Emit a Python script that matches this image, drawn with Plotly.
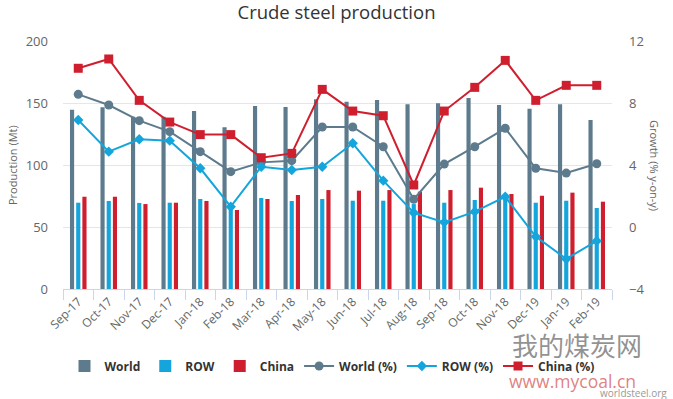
import plotly.graph_objects as go

months = ["Sep-17", "Oct-17", "Nov-17", "Dec-17", "Jan-18", "Feb-18", "Mar-18", "Apr-18", "May-18",
          "Jun-18", "Jul-18", "Aug-18", "Sep-18", "Oct-18", "Nov-18", "Dec-19", "Jan-19", "Feb-19"]

world = [144.5, 146.5, 139.0, 139.0, 143.5, 130.5, 147.6, 146.8, 153.0,
         151.0, 152.4, 149.0, 149.7, 154.0, 148.4, 145.4, 149.0, 136.3]
row = [69.6, 71.0, 69.4, 69.6, 72.6, 66.4, 73.4, 71.0, 72.6,
       71.2, 71.2, 68.5, 69.6, 71.8, 74.0, 69.6, 71.2, 65.3]
china = [74.4, 74.4, 68.5, 69.6, 71.0, 63.7, 72.6, 75.8, 79.8,
         79.3, 79.8, 78.5, 79.8, 81.7, 76.6, 75.2, 77.7, 70.4]

world_pct = [8.56, 7.87, 6.86, 6.15, 4.86, 3.57, 4.17, 4.28, 6.45,
             6.45, 5.18, 1.79, 4.06, 5.18, 6.37, 3.79, 3.48, 4.08]
row_pct = [6.9, 4.86, 5.66, 5.57, 3.79, 1.31, 3.89, 3.68, 3.89,
           5.4, 2.99, 0.92, 0.3, 0.99, 1.95, -0.62, -2.06, -0.9]
china_pct = [10.24, 10.84, 8.17, 6.77, 5.96, 5.96, 4.47, 4.75, 8.88,
             7.48, 7.18, 2.71, 7.48, 9.01, 10.75, 8.17, 9.14, 9.14]

C_WORLD = "#5d7b8d"
C_ROW = "#14a5dc"
C_CHINA = "#cf1f2f"

fig = go.Figure()
fig.add_trace(go.Bar(x=months, y=world, name="World", marker_color=C_WORLD, marker_line_width=0))
fig.add_trace(go.Bar(x=months, y=row, name="ROW", marker_color=C_ROW, marker_line_width=0))
fig.add_trace(go.Bar(x=months, y=china, name="China", marker_color=C_CHINA, marker_line_width=0))
fig.add_trace(go.Scatter(x=months, y=world_pct, name="World (%)", yaxis="y2", mode="lines+markers",
                         line=dict(color=C_WORLD, width=2), marker=dict(symbol="circle", size=9, color=C_WORLD)))
fig.add_trace(go.Scatter(x=months, y=row_pct, name="ROW (%)", yaxis="y2", mode="lines+markers",
                         line=dict(color=C_ROW, width=2), marker=dict(symbol="diamond", size=8, color=C_ROW)))
fig.add_trace(go.Scatter(x=months, y=china_pct, name="China (%)", yaxis="y2", mode="lines+markers",
                         line=dict(color=C_CHINA, width=2), marker=dict(symbol="square", size=9, color=C_CHINA)))

L, R, T, B = 63, 61, 41, 110
PW = 673 - L - R
PH = 399 - T - B


def px(x):
    return (x - L) / PW


def py(y):
    return (399 - B - y) / PH


fig.update_layout(
    width=673, height=399,
    margin=dict(l=L, r=R, t=T, b=B, autoexpand=False),
    paper_bgcolor="white", plot_bgcolor="white",
    font=dict(family="Open Sans, sans-serif", color="#666666", size=12),
    title=dict(text="Crude steel production", x=0.5, xanchor="center", y=1 - 13 / 399, yanchor="middle",
               font=dict(size=18.5, color="#333333")),
    barmode="group", bargap=0.39, bargroupgap=0.33,
    showlegend=True,
    legend=dict(orientation="h", x=0.49, xanchor="center", y=py(366), yanchor="middle",
                font=dict(size=12, color="#333333", family="Open Sans, sans-serif", weight="bold"),
                itemwidth=30, traceorder="normal"),
    xaxis=dict(tickangle=-45, showline=True, linecolor="#ccd6eb", linewidth=1, automargin=False,
               range=[-0.5, len(months) - 0.5],
               ticks="outside", tickson="boundaries", ticklen=10, tickcolor="#ccd6eb",
               tickfont=dict(size=12, color="#666666"), showgrid=False),
    yaxis=dict(range=[0, 200], dtick=50, showgrid=True, gridcolor="#e6e6e6", zeroline=False,
               automargin=False, tickfont=dict(size=13, color="#666666"), ticks="", ticklabelstandoff=14),
    yaxis2=dict(range=[-4, 12], dtick=4, overlaying="y", side="right", showgrid=False, zeroline=False,
                automargin=False, tickfont=dict(size=13, color="#666666"), ticklabelstandoff=16),
    annotations=[
        dict(text="Production (Mt)", textangle=-90, xref="paper", yref="paper",
             x=px(12), y=py(165), xanchor="center", yanchor="middle", showarrow=False,
             font=dict(size=11, color="#666666")),
        dict(text="Growth (% y-on-y)", textangle=90, xref="paper", yref="paper",
             x=px(655), y=py(165), xanchor="center", yanchor="middle", showarrow=False,
             font=dict(size=11, color="#666666")),
        dict(text="我的煤炭网", xref="paper", yref="paper", x=px(577), y=py(344),
             xanchor="center", yanchor="middle",
             showarrow=False, font=dict(size=26, color="rgba(110,110,110,0.75)",
                                        family="Noto Sans CJK SC")),
        dict(text="www.mycoal.cn", xref="paper", yref="paper", x=px(572), y=py(381),
             xanchor="center", yanchor="middle",
             showarrow=False, font=dict(size=17.5, color="rgba(215,95,95,0.8)")),
        dict(text="worldsteel.org", xref="paper", yref="paper", x=px(669), y=py(393),
             xanchor="right", yanchor="middle", showarrow=False, font=dict(size=10, color="#999999")),
    ],
)

fig.write_html("out.html", post_script="document.body.style.margin='0';",
               config={"displayModeBar": False})
